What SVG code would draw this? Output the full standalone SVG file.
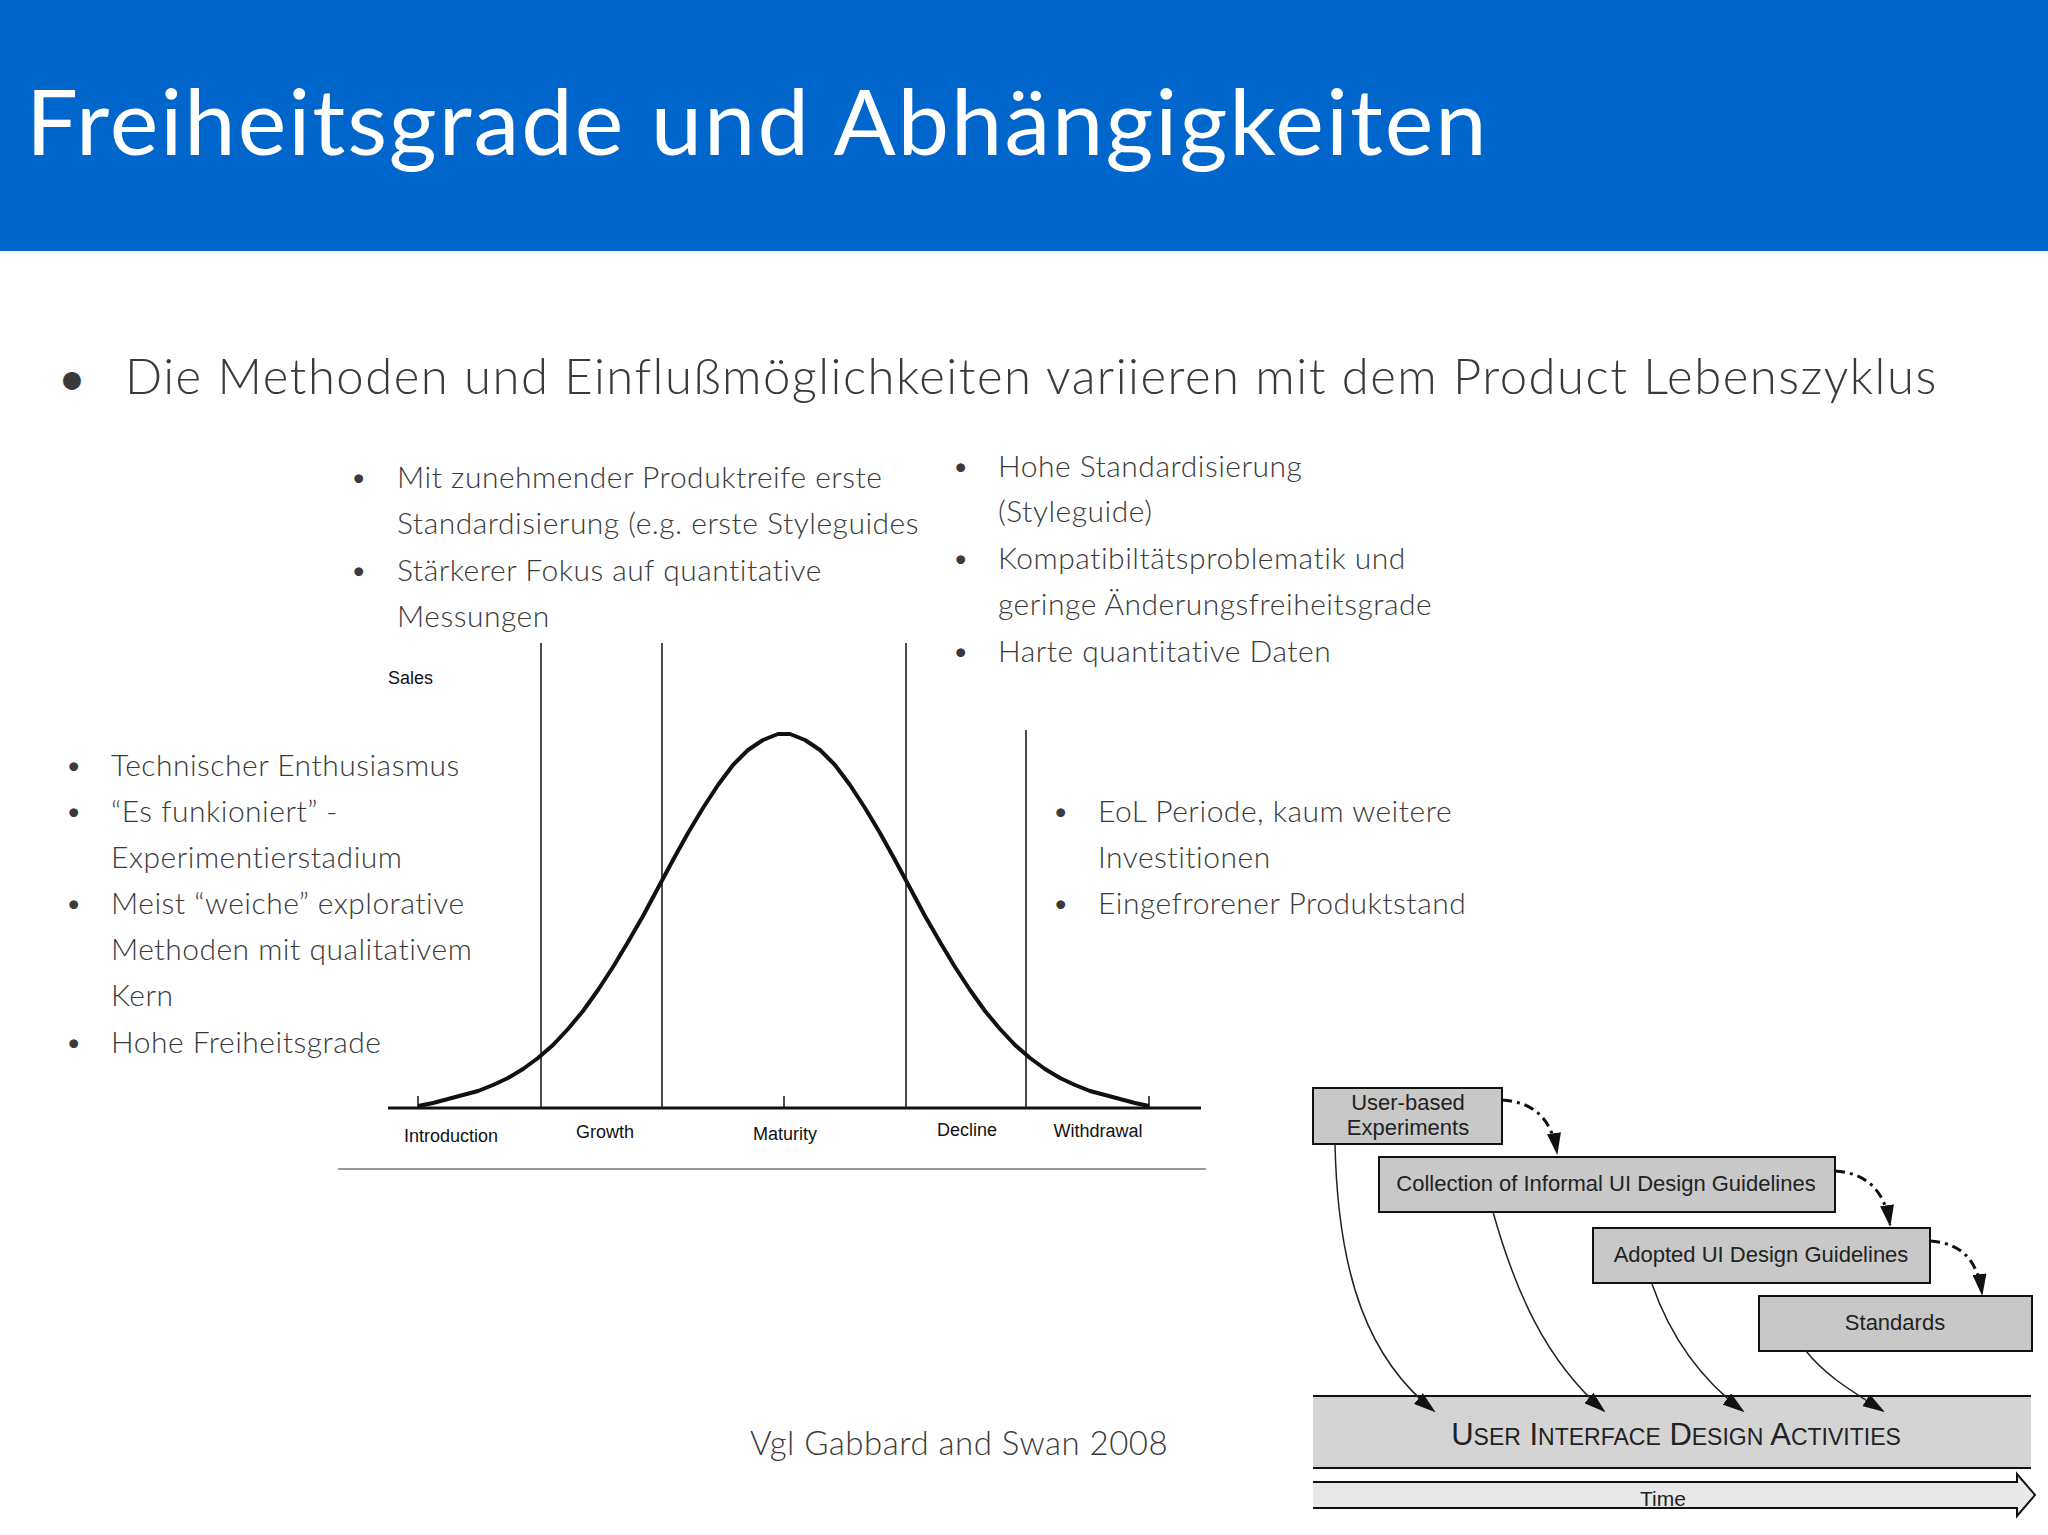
<svg xmlns="http://www.w3.org/2000/svg" width="2048" height="1535" viewBox="0 0 2048 1535">
<style>
.t{font-family:Lato,"Noto Sans",sans-serif;font-weight:300;fill:#3a3a3a;font-size:30px;letter-spacing:0.5px}
.n{font-family:"Liberation Sans",Arial,sans-serif;fill:#111;font-size:18px}
.b{font-family:"Liberation Sans",Arial,sans-serif;fill:#222;font-size:22px;text-anchor:middle}
.box{fill:#c8c8c8;stroke:#111;stroke-width:2}
.thin{stroke:#222;stroke-width:1.5;fill:none}
</style>
<defs>
<marker id="ah2" markerWidth="22" markerHeight="14" refX="20" refY="7" orient="auto" markerUnits="userSpaceOnUse"><path d="M0,0 L22,7 L0,14 Z" fill="#111"/></marker>
</defs>
<rect x="0" y="0" width="2048" height="251" fill="#0066cc"/>
<text x="26" y="155" font-family="Lato, Noto Sans, sans-serif" font-weight="400" font-size="92" letter-spacing="2" fill="#fff">Freiheitsgrade und Abhängigkeiten</text>
<text x="58" y="395" class="t" style="font-size:48px;font-weight:400">•</text>
<text x="125" y="394" class="t" style="font-size:49px;letter-spacing:1.5px">Die Methoden und Einflußmöglichkeiten variieren mit dem Product Lebenszyklus</text>
<g id="text-top-middle" class="t">
<text x="350" y="488">•</text><text x="397" y="488">Mit zunehmender Produktreife erste</text>
<text x="397" y="534">Standardisierung (e.g. erste Styleguides</text>
<text x="350" y="581">•</text><text x="397" y="581">Stärkerer Fokus auf  quantitative</text>
<text x="397" y="627">Messungen</text>
</g>
<g id="text-top-right" class="t">
<text x="952" y="477">•</text><text x="998" y="477">Hohe Standardisierung</text>
<text x="998" y="522">(Styleguide)</text>
<text x="952" y="569">•</text><text x="998" y="569">Kompatibiltätsproblematik und</text>
<text x="998" y="615">geringe Änderungsfreiheitsgrade</text>
<text x="952" y="662">•</text><text x="998" y="662">Harte quantitative Daten</text>
</g>
<g id="text-left" class="t">
<text x="65" y="776">•</text><text x="111" y="776">Technischer Enthusiasmus</text>
<text x="65" y="822">•</text><text x="111" y="822">“Es funkioniert” -</text>
<text x="111" y="868">Experimentierstadium</text>
<text x="65" y="914">•</text><text x="111" y="914">Meist “weiche” explorative</text>
<text x="111" y="960">Methoden mit qualitativem</text>
<text x="111" y="1006">Kern</text>
<text x="65" y="1053">•</text><text x="111" y="1053">Hohe Freiheitsgrade</text>
</g>
<g id="text-right" class="t">
<text x="1052" y="822">•</text><text x="1098" y="822">EoL Periode, kaum weitere</text>
<text x="1098" y="868">Investitionen</text>
<text x="1052" y="914">•</text><text x="1098" y="914">Eingefrorener Produktstand</text>
</g>
<g id="chart">
<line x1="388" y1="1108" x2="1201" y2="1108" stroke="#111" stroke-width="3"/>
<g stroke="#111" stroke-width="1.5">
<line x1="541" y1="643" x2="541" y2="1108"/><line x1="662" y1="643" x2="662" y2="1108"/>
<line x1="906" y1="643" x2="906" y2="1108"/><line x1="1026" y1="730" x2="1026" y2="1108"/>
<line x1="418" y1="1096" x2="418" y2="1108"/><line x1="784" y1="1096" x2="784" y2="1108"/><line x1="1149" y1="1096" x2="1149" y2="1108"/>
</g>
<polyline fill="none" stroke="#111" stroke-width="4" stroke-linejoin="round" points="418,1106 433,1103 448,1099 463,1095 478,1091 493,1085 508,1078 523,1069 538,1058 553,1045 568,1029 583,1011 598,990 613,967 628,942 643,916 658,888 673,860 688,833 703,808 718,785 733,765 748,750 763,740 778,734 784,734 790,734 805,740 820,750 835,765 850,785 865,808 880,833 895,860 910,888 925,916 940,942 955,967 970,990 985,1011 1000,1029 1015,1045 1030,1058 1045,1069 1060,1078 1075,1085 1090,1091 1105,1095 1120,1099 1135,1103 1149,1106"/>
<text x="388" y="684" class="n">Sales</text>
<g class="n" text-anchor="middle">
<text x="451" y="1142">Introduction</text><text x="605" y="1138">Growth</text><text x="785" y="1140">Maturity</text>
<text x="967" y="1136">Decline</text><text x="1098" y="1137">Withdrawal</text>
</g>
<line x1="338" y1="1169" x2="1206" y2="1169" stroke="#999" stroke-width="2"/>
</g>
<text x="959" y="1455" text-anchor="middle" class="t" style="font-size:33px">Vgl Gabbard and Swan 2008</text>
<g id="band">
<rect x="1313" y="1396" width="718" height="72" fill="#d4d4d4"/>
<line x1="1313" y1="1396" x2="2031" y2="1396" stroke="#111" stroke-width="2"/>
<line x1="1313" y1="1468" x2="2031" y2="1468" stroke="#111" stroke-width="2"/>
<text x="1676" y="1445" class="b" style="font-size:31px">U<tspan style="font-size:23px">SER</tspan> I<tspan style="font-size:23px">NTERFACE</tspan> D<tspan style="font-size:23px">ESIGN</tspan> A<tspan style="font-size:23px">CTIVITIES</tspan></text>
</g>
<g id="time">
<path d="M1313,1482 L2017,1482 L2017,1474 L2035,1495 L2017,1516 L2017,1508 L1313,1508" fill="#e8e8e8" stroke="#111" stroke-width="2"/>
<text x="1663" y="1506" class="b" style="font-size:21px">Time</text>
</g>
<g id="box1"><rect class="box" x="1313" y="1088" width="189" height="56"/><text x="1408" y="1110" class="b">User-based</text><text x="1408" y="1135" class="b">Experiments</text></g>
<g id="box2"><rect class="box" x="1379" y="1157" width="456" height="55"/><text x="1606" y="1191" class="b">Collection of Informal UI Design Guidelines</text></g>
<g id="box3"><rect class="box" x="1593" y="1228" width="337" height="55"/><text x="1761" y="1262" class="b">Adopted UI Design Guidelines</text></g>
<g id="box4"><rect class="box" x="1759" y="1296" width="273" height="55"/><text x="1895" y="1330" class="b">Standards</text></g>
<g id="connectors">
<path class="thin" d="M1335,1144 C1338,1280 1370,1360 1434,1411" marker-end="url(#ah2)"/>
<path class="thin" d="M1493,1212 C1515,1290 1545,1360 1604,1411" marker-end="url(#ah2)"/>
<path class="thin" d="M1652,1284 C1668,1330 1695,1375 1743,1411" marker-end="url(#ah2)"/>
<path class="thin" d="M1806,1351 C1825,1375 1850,1390 1883,1411" marker-end="url(#ah2)"/>
<g stroke="#111" stroke-width="3" fill="none" stroke-dasharray="10,5,3,5">
<path d="M1502,1100 C1535,1102 1552,1120 1557,1153" marker-end="url(#ah2)"/>
<path d="M1835,1171 C1868,1173 1885,1192 1890,1225" marker-end="url(#ah2)"/>
<path d="M1930,1241 C1963,1243 1978,1262 1982,1294" marker-end="url(#ah2)"/>
</g>
</g>
</svg>
